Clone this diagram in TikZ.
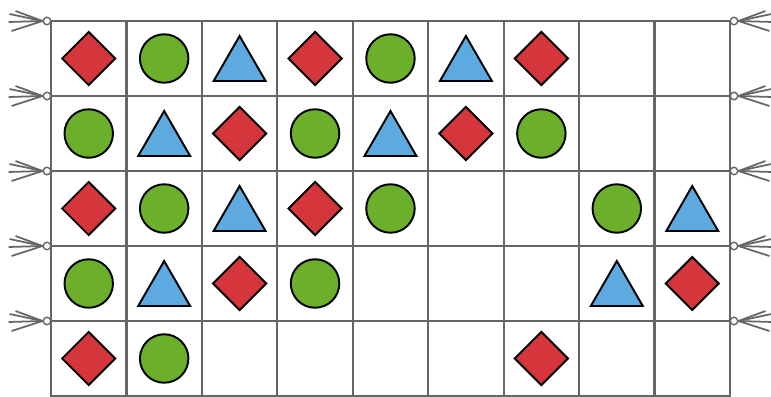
\documentclass[tikz,border=0pt]{standalone}
\usepackage{tikz}
\usetikzlibrary{shapes.geometric}
\definecolor{rugred}{HTML}{D4363B}
\definecolor{ruggreen}{HTML}{6BAF2B}
\definecolor{rugblue}{HTML}{5DAAE0}
\definecolor{ruggray}{HTML}{666666}
\tikzset{
  rhomb/.style={diamond,draw=black,fill=rugred,line width=1.1pt,inner sep=0pt,minimum width=1.08cm,minimum height=1.08cm},
  ball/.style={circle,draw=black,fill=ruggreen,line width=1.1pt,inner sep=0pt,minimum size=0.97cm},
  tri/.style={regular polygon,regular polygon sides=3,draw=black,fill=rugblue,line width=1.1pt,inner sep=0pt,minimum size=1.2cm,yshift=-0.15cm},
  knot/.style={circle,draw=ruggray,fill=white,line width=0.8pt,inner sep=0pt,minimum size=0.15cm},
  fringe/.style={ruggray,line width=1pt},
}

\begin{document}
\begin{tikzpicture}[x=0.02cm,y=-0.02cm]
        \useasboundingbox (0,0) rectangle (771,396);
        % grid
        \foreach \c in {0,...,9}
            \draw[ruggray,line width=1.3pt] ({51+75.44*\c},21)--({51+75.44*\c},397);
        \foreach \r in {0,...,5}
            \draw[ruggray,line width=1.3pt] (51,{21+75*\r})--(730,{21+75*\r});
        % tassels
        \foreach \r in {0,...,4}{
            \node[knot] (kl\r) at (47,{21+75*\r}) {};
            \node[knot] (kr\r) at (734,{21+75*\r}) {};
            \draw[fringe] (kl\r.west)--++(-33,-7);
            \draw[fringe] (kl\r.west)--++(-27,-10);
            \draw[fringe] (kl\r.west)--++(-34,1);
            \draw[fringe] (kl\r.west)--++(-31,10);
            \draw[fringe] (kr\r.east)--++(33,-7);
            \draw[fringe] (kr\r.east)--++(27,-10);
            \draw[fringe] (kr\r.east)--++(34,1);
            \draw[fringe] (kr\r.east)--++(31,10);
        }
        % shapes
        \foreach \r/\c in {1/1,1/4,1/7,2/3,2/6,3/1,3/4,4/3,4/9,5/1,5/7}
            \node[rhomb] (d\r\c) at ({51+75.44*(\c-0.5)},{21+75*(\r-0.5)}) {};
        \foreach \r/\c in {1/2,1/5,2/1,2/4,2/7,3/2,3/5,3/8,4/1,4/4,5/2}
            \node[ball] (b\r\c) at ({51+75.44*(\c-0.5)},{21+75*(\r-0.5)}) {};
        \foreach \r/\c in {1/3,1/6,2/2,2/5,3/3,3/9,4/2,4/8}
            \node[tri] (t\r\c) at ({51+75.44*(\c-0.5)},{21+75*(\r-0.5)}) {};
    \end{tikzpicture}
\end{document}
